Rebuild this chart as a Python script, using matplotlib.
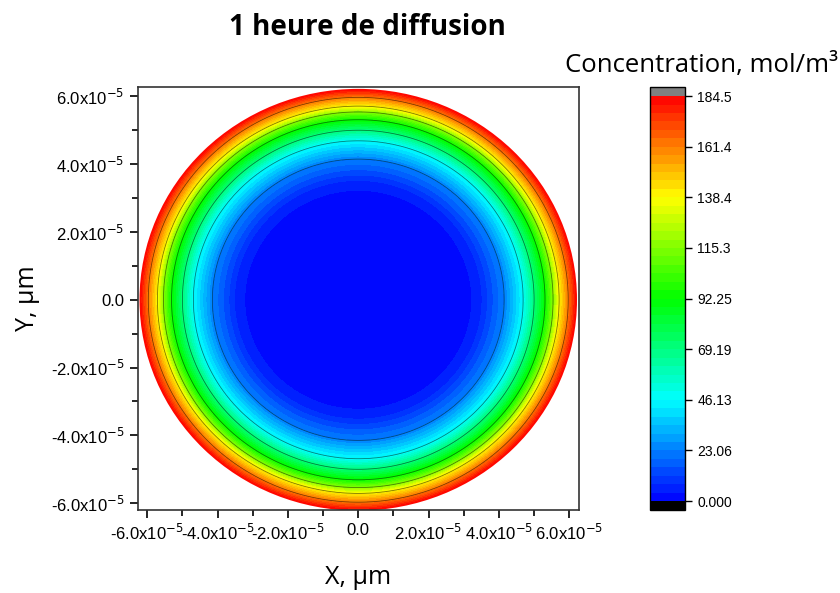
import numpy as np
import matplotlib
matplotlib.use('Agg')
import matplotlib.pyplot as plt
from matplotlib.colors import LinearSegmentedColormap
from matplotlib.patches import Circle
from matplotlib.ticker import MultipleLocator, FuncFormatter

# radial concentration profile (r in units of 1e-5 m)
radius = [0.0, 2.70, 3.41, 4.15, 4.69, 5.00, 5.31, 5.54, 5.71, 5.97, 6.22]
conc = [0.0, 0.5, 5.0, 23.06, 46.13, 69.19, 92.25, 115.3, 138.4, 161.4, 184.5]
cbar_ticks = [0.000, 23.06, 46.13, 69.19, 92.25, 115.3, 138.4, 161.4, 184.5]
cbar_labels = ['0.000', '23.06', '46.13', '69.19', '92.25', '115.3', '138.4', '161.4', '184.5']
line_levels = [23.06, 46.13, 69.19, 92.25, 115.3, 138.4, 161.4]
R = 6.22e-5
cmax = 184.5

plt.rcParams['font.family'] = ['Liberation Sans', 'DejaVu Sans']

cmap = LinearSegmentedColormap.from_list(
    'origin_rainbow', ['#0000ff', '#00ffff', '#00ff00', '#ffff00', '#ff0000'])
cmap.set_over('#808080')
cmap.set_under('#000000')

# field on a grid, built from the radial profile
x = np.linspace(-6.3e-5, 6.3e-5, 700)
X, Y = np.meshgrid(x, x)
rr = np.sqrt(X**2 + Y**2)
Z = np.interp(rr / 1e-5, radius, conc)
Z = np.ma.masked_where(rr > R * 1.005, Z)

fig = plt.figure(figsize=(8.4, 5.93), dpi=100)
ax = fig.add_axes([0.164, 0.140, 0.525, 0.713])

levels = np.linspace(0, cmax, 49)
cs = ax.contourf(X, Y, Z, levels=levels, cmap=cmap, extend='both')
cl = ax.contour(X, Y, Z, levels=line_levels, colors='k', linewidths=0.6, alpha=0.5)
clip = Circle((0, 0), R, transform=ax.transData)
cs.set_clip_path(clip)

ax.set_xlim(-6.27e-5, 6.27e-5)
ax.set_ylim(-6.2e-5, 6.27e-5)

def fmt(v, pos):
    if abs(v) < 1e-12:
        return '0.0'
    return '%.1fx10$^{-5}$' % (v / 1e-5)

for a in (ax.xaxis, ax.yaxis):
    a.set_major_locator(MultipleLocator(2e-5))
    a.set_minor_locator(MultipleLocator(1e-5))
    a.set_major_formatter(FuncFormatter(fmt))
ax.tick_params(which='both', direction='out', top=False, right=False, labelsize=12)
ax.tick_params(which='major', length=6, width=1.2)
ax.tick_params(which='minor', length=4, width=1.2)
for s in ax.spines.values():
    s.set_linewidth(1.2)
    s.set_color('#333333')

ax.set_xlabel('X, µm', fontsize=18, family=['Open Sans', 'DejaVu Sans'], labelpad=16)
ax.set_ylabel('Y, µm', fontsize=18, family=['Open Sans', 'DejaVu Sans'], labelpad=8)

fig.text(0.438, 0.953, '1 heure de diffusion', ha='center', va='center',
         fontsize=20, fontweight='bold', family=['Open Sans', 'DejaVu Sans'])
fig.text(0.998, 0.889, 'Concentration, mol/m³', ha='right', va='center',
         fontsize=18.5, family=['Open Sans', 'DejaVu Sans'])

cax = fig.add_axes([0.774, 0.140, 0.042, 0.713])
cb = fig.colorbar(cs, cax=cax, extend='both', extendrect=True, extendfrac=0.022)
cb.set_ticks(cbar_ticks)
cb.set_ticklabels(cbar_labels)
cb.ax.tick_params(labelsize=10, length=5, width=1.0, direction='out')
cb.ax.minorticks_off()
cb.outline.set_linewidth(1.0)

fig.savefig('out.png', dpi=100)
